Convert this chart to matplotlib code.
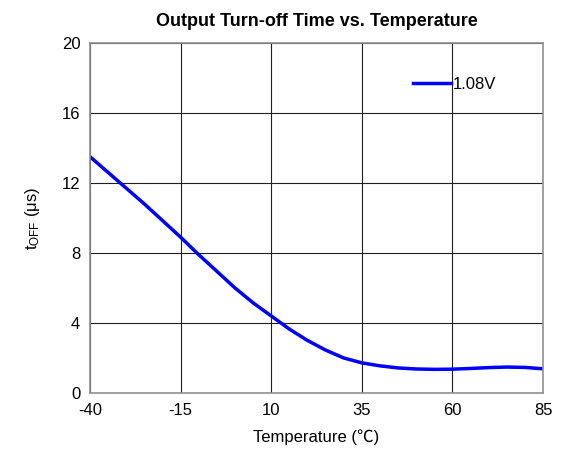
import matplotlib
matplotlib.use("Agg")
import matplotlib.pyplot as plt

plt.rcParams.update({
    "font.family": ["Liberation Sans", "Noto Sans CJK SC", "DejaVu Sans"],
    "mathtext.default": "regular",
    "axes.unicode_minus": False,
    "font.size": 12,
})

# ── data ─────────────────────────────────────────────────────────────────────
temp = [-40, -35, -30, -25, -20, -15, -10, -5, 0, 5, 10, 15, 20, 25, 30,
        35, 40, 45, 50, 55, 60, 65, 70, 75, 80, 85]
t_off = [13.5, 12.6, 11.7, 10.8, 9.85, 8.9, 7.9, 6.95, 6.0, 5.15, 4.4, 3.65,
         3.0, 2.45, 2.0, 1.72, 1.55, 1.43, 1.37, 1.35, 1.36, 1.40, 1.45,
         1.48, 1.46, 1.38]
x_ticks = [-40, -15, 10, 35, 60, 85]
y_ticks = [0, 4, 8, 12, 16, 20]

fig = plt.figure(figsize=(5.63, 4.58), dpi=100)
ax = fig.add_axes([0.160, 0.142, 0.8045, 0.764])

ax.plot(temp, t_off, color="#0000FF", linewidth=2.5, label="1.08V",
        solid_joinstyle="round")

ax.set_xlim(-40, 85)
ax.set_ylim(0, 20)
ax.set_xticks(x_ticks)
ax.set_yticks(y_ticks)
ax.tick_params(length=0, pad=7, labelsize=12)
ax.grid(True, color="#202020", linewidth=0.8)
ax.set_axisbelow(True)
for s in ax.spines.values():
    s.set_color("#909090")
    s.set_linewidth(1.2)

ax.set_title("Output Turn-off Time vs. Temperature", fontsize=13,
             fontweight="bold", pad=12)
ax.set_xlabel("Temperature (℃)", fontsize=12, labelpad=8)
ax.set_ylabel("t$_{OFF}$ (μs)", fontsize=12, labelpad=14)

ax.legend(loc="upper left", bbox_to_anchor=(0.68, 0.945), frameon=False,
          handlelength=2.3, handletextpad=0.1, fontsize=12)

fig.savefig("out.png", dpi=100)
